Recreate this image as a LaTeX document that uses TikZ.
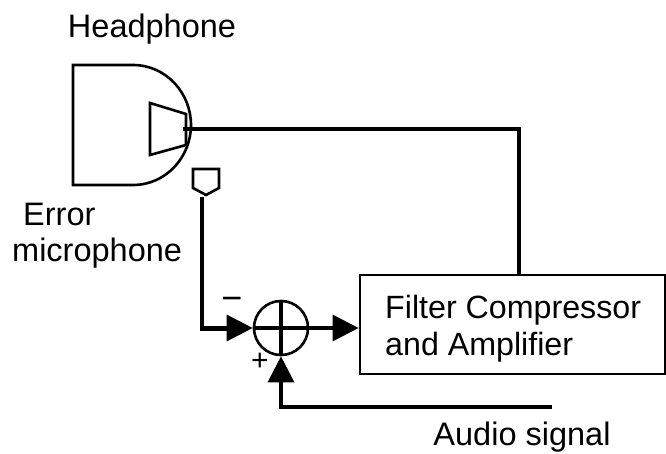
\documentclass[tikz,border=0pt]{standalone}
\usepackage{fontspec}
\setmainfont{Liberation Sans}
\usetikzlibrary{arrows.meta,calc}
\tikzset{
  outline/.style={draw=black,line width=2.6pt,line join=miter},
  wire/.style={draw=black,line width=4pt},
  feed/.style={draw=black,line width=3.2pt},
  bigtip/.style={-{Triangle[length=26pt,width=26pt,fill=black]}},
  lbl/.style={font=\fontsize{32.5}{36}\selectfont,inner sep=0pt,text=black,align=left},
  boxlbl/.style={font=\fontsize{32.2}{36}\selectfont,inner sep=0pt,text=black,align=left},
  plussign/.style={font=\fontsize{30}{30}\selectfont,inner sep=0pt,text=black},
  minussign/.style={font=\fontsize{36}{36}\selectfont,inner sep=0pt,text=black}
}
\begin{document}
\begin{tikzpicture}[x=1pt,y=-1pt]
\useasboundingbox (0,0) rectangle (666,454);
% headphone body
\draw[outline] (73,65) -- (133,65) .. controls (166,65) and (191,93) .. (191,125) .. controls (191,157) and (166,185) .. (133,185) -- (73,185) -- cycle;
% speaker
\draw[outline] (150,103) -- (186,114) -- (186,145) -- (150,155) -- cycle;
% error mic
\coordinate (spk) at (183,129);
\draw[outline] (193,169) -- (219,169) -- (219,188) -- (206,195) -- (193,188) -- cycle;
\coordinate (mictail) at (202,197);
\coordinate (corner1) at (202,329);
% summing junction
\node[circle,draw=black,line width=2.6pt,minimum size=54pt,inner sep=0pt] (sum) at (281,328) {};
\draw[black,line width=3.2pt] (sum.north) -- (sum.south) (sum.west) -- (sum.east);
% filter box
\node[draw=black,line width=2.8pt,minimum width=305pt,minimum height=99pt,inner sep=0pt] (box) at (512.5,324.5) {};
\node[boxlbl,anchor=north west] (boxtext) at (385,295) {Filter Compressor\\[1pt]and Amplifier};
% wires
\draw[wire] (spk) -- (519,129) -- (519,129 |- box.north);
\draw[wire,line join=miter] (mictail) -- (corner1) -- (230,329);
\draw[bigtip,feed] (corner1 |- sum.west) -- (sum.west);
\draw[bigtip,feed] (sum.east) -- (sum.east -| box.west);
\coordinate (audioend) at (552,407);
\coordinate (corner2) at (281,407);
\draw[bigtip,feed,line join=miter] (audioend) -- (corner2) -- (sum.south);
% labels
\node[lbl,anchor=center] (hp) at (152,29) {Headphone};
\node[lbl,anchor=north west] (err) at (23,203) {Error};
\node[lbl,anchor=north west] (mic) at (12,238) {microphone};
\node[lbl,anchor=center] (audio) at (522,437) {Audio signal};
\node[minussign] (minus) at (232,304) {−};
\node[plussign] (plus) at (260,362) {+};
\end{tikzpicture}
\end{document}
